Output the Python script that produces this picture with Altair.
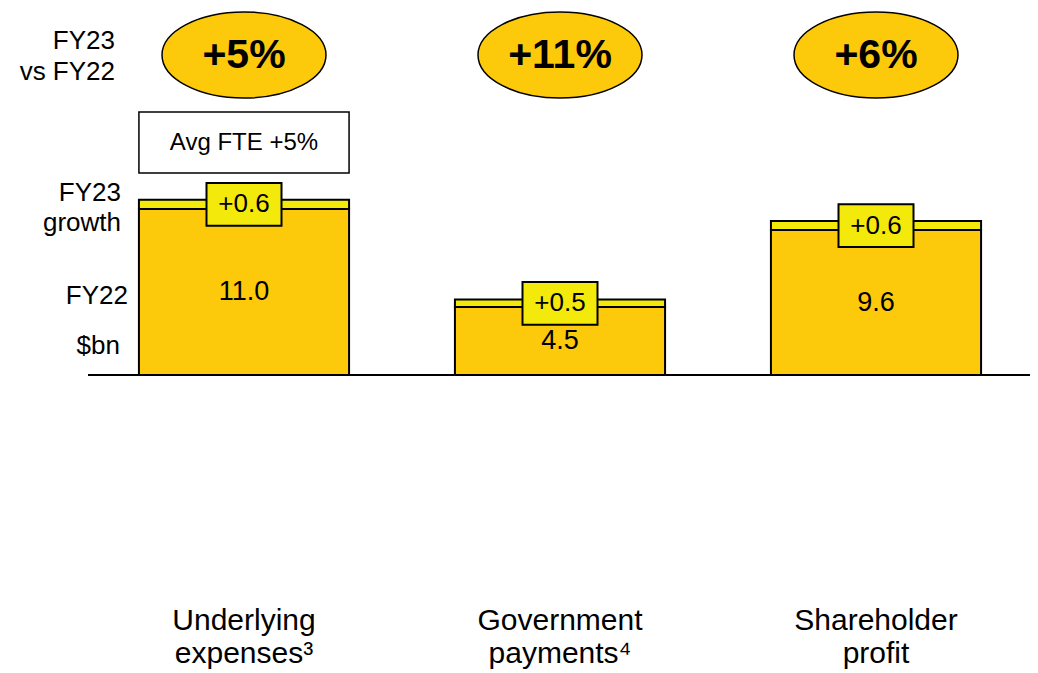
import altair as alt
import pandas as pd

# ---- data ----
categories = ["Underlying expenses", "Government payments", "Shareholder profit"]
fy22 = [11.0, 4.5, 9.6]
growth = [0.6, 0.5, 0.6]
pct_change = ["+5%", "+11%", "+6%"]
label_line1 = ["Underlying", "Government", "Shareholder"]
label_line2 = ["expenses\u00b3", "payments\u2074", "profit"]
fy22_text = ["11.0", "4.5", "9.6"]
growth_text = ["+0.6", "+0.5", "+0.6"]
fte_note = "Avg FTE +5%"

df = pd.DataFrame({
    "cat": categories,
    "fy22": fy22,
    "growth": growth,
    "pct": pct_change,
    "l1": label_line1,
    "l2": label_line2,
    "ft": fy22_text,
    "gt": growth_text,
})

FONT = "Liberation Sans"
ORANGE = "#FDC90B"
YELLOW = "#F3EA0C"

x_enc = alt.X("cat:N", sort=categories, axis=None,
              scale=alt.Scale(range=[78, 1026], paddingInner=0.335, paddingOuter=0.1675))
y_scale = alt.Scale(domain=[0, 10], range=[367, 216], nice=False, zero=False)

base = alt.Chart(df).transform_calculate(
    total="datum.fy22 + datum.growth",
    mid="datum.fy22 + datum.growth / 2",
    half="datum.fy22 / 2",
)

bars = base.mark_bar(fill=ORANGE, stroke="black", strokeWidth=2).encode(
    x=x_enc,
    y=alt.Y("zero:Q", scale=y_scale, axis=None),
    y2="fy22:Q",
).transform_calculate(zero="0")

growth_bars = base.mark_bar(fill=YELLOW, stroke="black", strokeWidth=2).encode(
    x=x_enc,
    y=alt.Y("fy22:Q", scale=y_scale, axis=None),
    y2="total:Q",
)

baseline = alt.Chart(pd.DataFrame({"v": [0]})).mark_rule(color="black", strokeWidth=2).encode(
    x=alt.value(80), x2=alt.value(1022),
    y=alt.Y("v:Q", scale=y_scale, axis=None),
)

fy22_labels = base.mark_text(font=FONT, fontSize=27, color="black", baseline="middle").encode(
    x=x_enc,
    y=alt.Y("half:Q", scale=y_scale, axis=None),
    text="ft:N",
)

growth_boxes = base.mark_point(
    shape="M-1,-0.57H1V0.57H-1Z", size=5625, filled=True,
    fill=YELLOW, stroke="black", strokeWidth=2, opacity=1,
).encode(
    x=x_enc,
    y=alt.Y("mid:Q", scale=y_scale, axis=None),
)

growth_labels = base.mark_text(font=FONT, fontSize=26, color="black", baseline="middle").encode(
    x=x_enc,
    y=alt.Y("mid:Q", scale=y_scale, axis=None),
    text="gt:N",
)

ellipses = base.mark_point(
    shape="M-1,0A1,0.525,0,1,1,1,0A1,0.525,0,1,1,-1,0Z", size=26896, filled=True,
    fill=ORANGE, stroke="black", strokeWidth=1.5, opacity=1,
).encode(x=x_enc, y=alt.value(47))

ellipse_text = base.mark_text(font=FONT, fontSize=41, fontWeight="bold", color="black",
                              baseline="middle").encode(
    x=x_enc, y=alt.value(48), text="pct:N")

cat1 = base.mark_text(font=FONT, fontSize=30, color="black", baseline="middle").encode(
    x=x_enc, y=alt.value(613), text="l1:N")
cat2 = base.mark_text(font=FONT, fontSize=30, color="black", baseline="middle").encode(
    x=x_enc, y=alt.value(646), text="l2:N")

first = base.transform_filter(alt.datum.cat == categories[0])
fte_box = first.mark_bar(fill="white", stroke="black", strokeWidth=1.5).encode(
    x=x_enc, y=alt.value(104), y2=alt.value(165))
fte_text = first.mark_text(font=FONT, fontSize=24, color="black", baseline="middle").encode(
    x=x_enc, y=alt.value(135), text=alt.value(fte_note))


def left_label(txt, xr, yc):
    return alt.Chart(pd.DataFrame({"t": [txt]})).mark_text(
        font=FONT, fontSize=26, color="black", align="right", baseline="middle"
    ).encode(x=alt.value(xr), y=alt.value(yc), text="t:N")


left = [
    left_label("FY23", 107, 33),
    left_label("vs FY22", 107, 64),
    left_label("FY23", 113, 185),
    left_label("growth", 113, 215),
    left_label("FY22", 120, 288),
    left_label("$bn", 112, 338),
]

chart = alt.layer(
    bars, growth_bars, baseline, fy22_labels, growth_boxes, growth_labels,
    ellipses, ellipse_text, cat1, cat2, fte_box, fte_text, *left,
).properties(
    width=1022, height=665, padding=0, autosize="none",
).configure_view(stroke=None)

chart.save("out.html", embed_options={"renderer": "svg", "actions": False})
